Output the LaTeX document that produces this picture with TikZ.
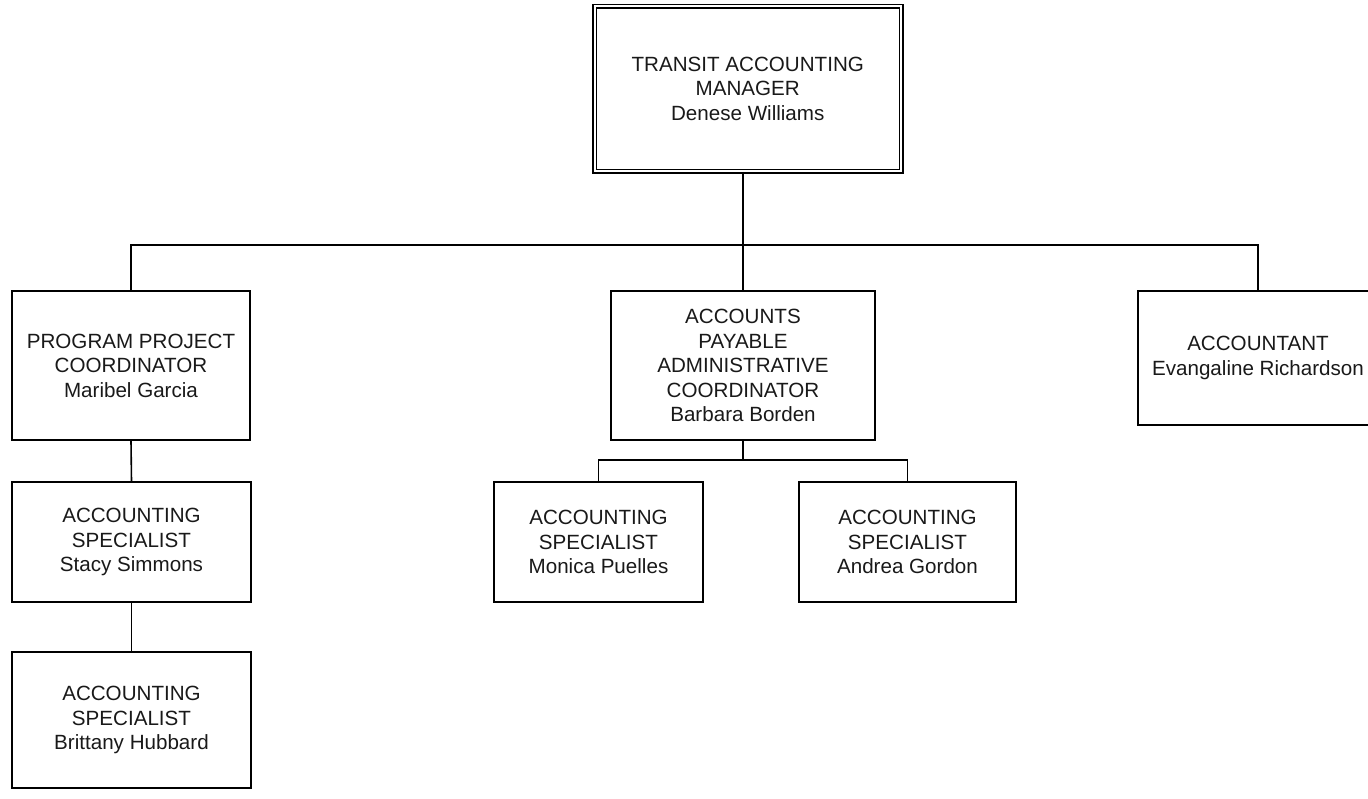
\documentclass[tikz,border=0pt]{standalone}
\usepackage{fontspec}
\setmainfont{Liberation Sans}
\begin{document}
\begin{tikzpicture}[x=1pt,y=-1pt,
  box/.style={draw=black, line width=1.5pt, rectangle, inner sep=0pt,
    align=center, text=black!90, font=\fontsize{20.6}{24.5}\selectfont},
  headbox/.style={box, double, double distance=2pt},
  link/.style={draw=black, line width=1.6pt}]
\useasboundingbox (0,0) rectangle (1368,798);
\clip (0,0) rectangle (1368,798);

% manager
\node[headbox, minimum width=306.5pt, minimum height=165pt] (top) at (747.75,88.5)
  {TRANSIT ACCOUNTING\\MANAGER\\Denese Williams};

% direct reports
\node[box, minimum width=238pt, minimum height=149pt] (ppc) at (131,365.5)
  {PROGRAM PROJECT\\COORDINATOR\\Maribel Garcia};
\node[box, minimum width=264pt, minimum height=149pt] (ap) at (743,365.5)
  {ACCOUNTS\\PAYABLE\\ADMINISTRATIVE\\COORDINATOR\\Barbara Borden};
\node[box, minimum width=240pt, minimum height=134pt] (acc) at (1258,358)
  {ACCOUNTANT\\Evangaline Richardson};

% left column
\node[box, minimum width=239pt, minimum height=120pt] (stacy) at (131.5,542)
  {ACCOUNTING\\SPECIALIST\\Stacy Simmons};
\node[box, minimum width=239pt, minimum height=136pt] (britt) at (131.5,720)
  {ACCOUNTING\\SPECIALIST\\Brittany Hubbard};

% accounts payable team
\node[box, minimum width=209pt, minimum height=120pt] (monica) at (598.5,542)
  {ACCOUNTING\\SPECIALIST\\Monica Puelles};
\node[box, minimum width=217pt, minimum height=120pt] (andrea) at (907.5,542)
  {ACCOUNTING\\SPECIALIST\\Andrea Gordon};

% connectors
\coordinate (bus) at (0,245);
\coordinate (subbus) at (0,460);
\draw[link] (top.south -| ap.north) -- (ap.north);
\draw[link] (ppc.north) -- (ppc.north |- bus) -| (acc.north);
\draw[link] (ap.south) -- (ap.south |- subbus);
\draw[link] (monica.north) -- (monica.north |- subbus) -| (andrea.north);
\draw[link] (ppc.south) -- (stacy.north);
\draw[link] (stacy.south) -- (britt.north);
\end{tikzpicture}
\end{document}
